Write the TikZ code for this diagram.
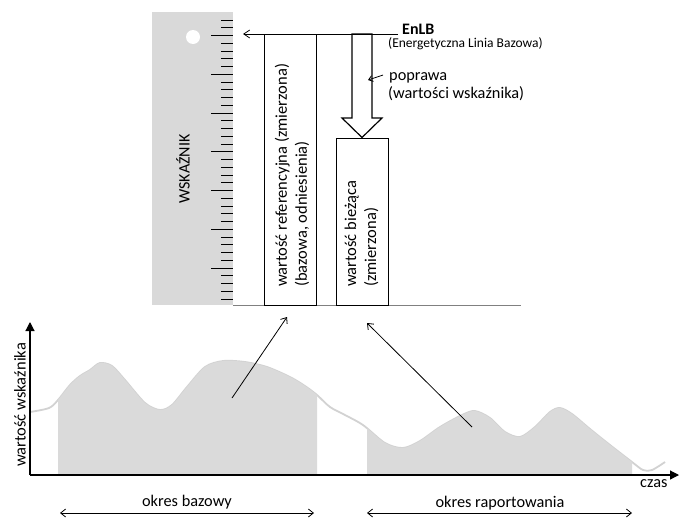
\documentclass[tikz,border=0pt]{standalone}
\usepackage{fontspec}
\setmainfont{Carlito}
\usetikzlibrary{arrows.meta}
\definecolor{rulergray}{RGB}{217,217,217}
\definecolor{fillgray}{RGB}{218,218,218}
\definecolor{linegray}{RGB}{210,210,210}
\definecolor{basegray}{RGB}{128,128,128}
\begin{document}
\begin{tikzpicture}[x=1pt,y=-1pt,
  box/.style={draw, line width=1pt, minimum width=52pt, inner sep=0pt},
  lbl/.style={font=\fontsize{16.3}{20}\selectfont, inner sep=0pt},
  rlbl/.style={font=\fontsize{16.5}{20}\selectfont, inner sep=0pt, rotate=90, anchor=west, align=left},
  barb/.style={-{Straight Barb[length=5pt,width=8pt]}},
  dbarb/.style={{Straight Barb[length=5pt,width=8pt]}-{Straight Barb[length=5pt,width=8pt]}},
  thinln/.style={line width=0.8pt},
  tick/.style={line width=1pt},
  axis/.style={line width=1.2pt, -{Triangle[length=9pt,width=9pt]}}
]
\useasboundingbox (0,0) rectangle (679,517);

% ruler
\fill[rulergray] (152,12) rectangle (233,305);
\fill[white] (193,37) circle (7);
\foreach \k in {0,...,36}{
  \pgfmathtruncatemacro\m{mod(\k,5)}
  \pgfmathsetmacro\yy{20+7.75*\k}
  \ifnum\m=2
    \draw[tick] (211,\yy) -- (233,\yy);
  \else
    \draw[tick] (221,\yy) -- (233,\yy);
  \fi
}
\node[font=\fontsize{16}{18}\selectfont, rotate=90, inner sep=0pt] (wsk) at (183,169) {WSKAŹNIK};

% base line
\coordinate (baseL) at (233,305);
\coordinate (baseR) at (521,305);
\draw[basegray, line width=1pt] (baseL) -- (baseR);

% boxes
\node[box, minimum height=271pt] (ref) at (290,169.5) {};
\node[rlbl] (reftxt) at (292,287) {wartość referencyjna (zmierzona)\\(bazowa, odniesienia)};
\node[box, minimum height=167pt] (cur) at (362,221.5) {};
\node[rlbl] (curtxt) at (361.5,287) {wartość bieżąca\\(zmierzona)};

% EnLB line
\coordinate (enlbR) at (398,34);
\coordinate (rulerhit) at (243,34);
\draw[thinln, -{Straight Barb[length=6pt,width=8pt]}] (enlbR) -- (rulerhit);
\node[font=\bfseries\fontsize{16}{18}\selectfont, anchor=base west, inner sep=0pt] (enlb) at (402,34) {EnLB};
\node[font=\fontsize{13.5}{15}\selectfont, anchor=base west, inner sep=0pt] (enlbfull) at (388,47) {(Energetyczna Linia Bazowa)};

% hollow arrow
\draw[line width=1.2pt, line join=miter] (352,34) -- (352,118) -- (342,118) -- (cur.north) -- (382,118) -- (372,118) -- (372,34) -- cycle;

% poprawa
\node[lbl, anchor=base west] (popr) at (389,80) {poprawa};
\node[lbl, anchor=base west] (popr2) at (388,98) {(wartości wskaźnika)};
\coordinate (poprS) at (383,75);
\coordinate (poprT) at (368,80);
\draw[thinln, -{Straight Barb[length=4pt,width=6pt]}] (poprS) -- (poprT);

% curve line
\draw[linegray, line width=1.8pt, line join=round] plot[smooth, tension=0.5] coordinates {(30,412) (49,408) (58,400) (70,385) (80,376) (90,370) (100,363) (112,366) (125,380) (145,403) (160,410) (172,405) (187,387) (205,367) (223,361) (245,362) (267,367) (290,377) (305,386) (317,395) (330,407) (345,415) (363,425) (385,443) (403,448) (420,441) (440,427) (462,415) (475,411) (490,418) (505,432) (520,437) (535,427) (550,412) (560,408) (572,414) (590,429) (610,445) (632,462) (643,470) (652,470) (665,462)};
\begin{scope}
\clip (58,300) rectangle (317,475) (367,300) rectangle (632,475);
\fill[fillgray] plot[smooth, tension=0.5] coordinates {(30,412) (49,408) (58,400) (70,385) (80,376) (90,370) (100,363) (112,366) (125,380) (145,403) (160,410) (172,405) (187,387) (205,367) (223,361) (245,362) (267,367) (290,377) (305,386) (317,395) (330,407) (345,415) (363,425) (385,443) (403,448) (420,441) (440,427) (462,415) (475,411) (490,418) (505,432) (520,437) (535,427) (550,412) (560,408) (572,414) (590,429) (610,445) (632,462) (643,470) (652,470) (665,462)} -- (665,476) -- (30,476) -- cycle;
\end{scope}

% axes
\coordinate (O) at (30,475);
\coordinate (Ytop) at (30,322);
\coordinate (Xend) at (679,475);
\draw[axis] (O) -- (Ytop);
\draw[axis] (O) -- (Xend);
\node[font=\fontsize{16.5}{18}\selectfont, rotate=90, inner sep=0pt] (ylab) at (20,405) {wartość wskaźnika};
\node[lbl, anchor=base west] (czas) at (640,487) {czas};

% periods
\coordinate (bL) at (60,513);
\coordinate (bR) at (314,513);
\coordinate (rL) at (367,513);
\coordinate (rR) at (632,513);
\draw[thinln, dbarb] (bL) -- (bR);
\draw[thinln, dbarb] (rL) -- (rR);
\node[lbl, anchor=base] (okb) at (187,506) {okres bazowy};
\node[lbl, anchor=base] (okr) at (500,507) {okres raportowania};

% arrows from chart to boxes
\coordinate (a1s) at (232,398);
\coordinate (a1t) at (287,317);
\coordinate (a2s) at (472,427);
\coordinate (a2t) at (367,323);
\draw[thinln, barb] (a1s) -- (a1t);
\draw[thinln, barb] (a2s) -- (a2t);
\end{tikzpicture}
\end{document}
